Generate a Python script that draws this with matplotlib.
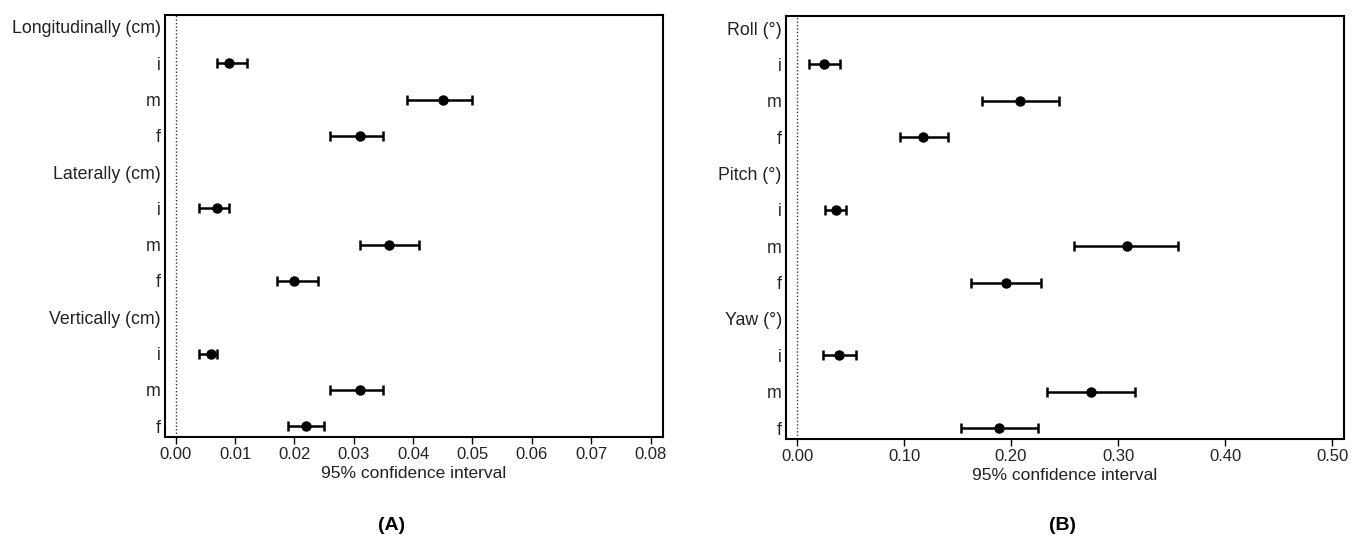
import matplotlib.pyplot as plt

plt.rcParams['font.family'] = ['Liberation Sans', 'DejaVu Sans']

# Panel A - translation (cm)
labelsA = ['Longitudinally (cm)', 'i', 'm', 'f',
           'Laterally (cm)', 'i', 'm', 'f',
           'Vertically (cm)', 'i', 'm', 'f']
rowsA = [1, 2, 3, 5, 6, 7, 9, 10, 11]
meanA = [0.009, 0.045, 0.031, 0.007, 0.036, 0.020, 0.006, 0.031, 0.022]
lowA = [0.007, 0.039, 0.026, 0.004, 0.031, 0.017, 0.004, 0.026, 0.019]
highA = [0.012, 0.050, 0.035, 0.009, 0.041, 0.024, 0.007, 0.035, 0.025]
ticksA = [0.00, 0.01, 0.02, 0.03, 0.04, 0.05, 0.06, 0.07, 0.08]

# Panel B - rotation (deg)
labelsB = ['Roll (°)', 'i', 'm', 'f',
           'Pitch (°)', 'i', 'm', 'f',
           'Yaw (°)', 'i', 'm', 'f']
rowsB = [1, 2, 3, 5, 6, 7, 9, 10, 11]
meanB = [0.025, 0.208, 0.118, 0.036, 0.308, 0.195, 0.039, 0.275, 0.189]
lowB = [0.011, 0.173, 0.096, 0.026, 0.259, 0.163, 0.024, 0.234, 0.153]
highB = [0.040, 0.245, 0.141, 0.046, 0.356, 0.228, 0.055, 0.316, 0.225]
ticksB = [0.00, 0.10, 0.20, 0.30, 0.40, 0.50]

fig = plt.figure(figsize=(13.52, 5.38), dpi=100)
axA = fig.add_axes([165/1352, 1-437/538, (663-165)/1352, (437-15)/538])
axB = fig.add_axes([786/1352, 1-439/538, (1344-786)/1352, (439-16)/538])


def draw(ax, labels, rows, mean, low, high, ticks, xlim):
    xerr = [[m - l for m, l in zip(mean, low)], [h - m for m, h in zip(mean, high)]]
    ax.errorbar(mean, rows, xerr=xerr, fmt='o', color='black', ms=6.5,
                elinewidth=1.8, capsize=3.8, capthick=1.8)
    ax.axvline(0, color='#333333', linestyle=(0, (1, 1.5)), linewidth=1)
    ax.set_ylim(11.3, -0.33)
    ax.set_xlim(*xlim)
    ax.set_yticks(range(len(labels)))
    ax.set_yticklabels(labels, fontsize=12.8, color='#222222')
    ax.tick_params(axis='y', length=0, pad=3)
    ax.set_xticks(ticks)
    ax.set_xticklabels(['%.2f' % t for t in ticks], fontsize=12, color='#222222')
    ax.tick_params(axis='x', length=5, width=1, pad=2)
    ax.set_xlabel('95% confidence interval', fontsize=12.5, color='#222222', labelpad=3)
    for s in ax.spines.values():
        s.set_linewidth(1.5)


draw(axA, labelsA, rowsA, meanA, lowA, highA, ticksA, (-0.0018, 0.0821))
draw(axB, labelsB, rowsB, meanB, lowB, highB, ticksB, (-0.0103, 0.5112))

fig.text(392/1352, 1-525/538, '(A)', fontsize=14, fontweight='bold', ha='center', va='center')
fig.text(1063/1352, 1-525/538, '(B)', fontsize=14, fontweight='bold', ha='center', va='center')

fig.savefig('out.png', dpi=100)
